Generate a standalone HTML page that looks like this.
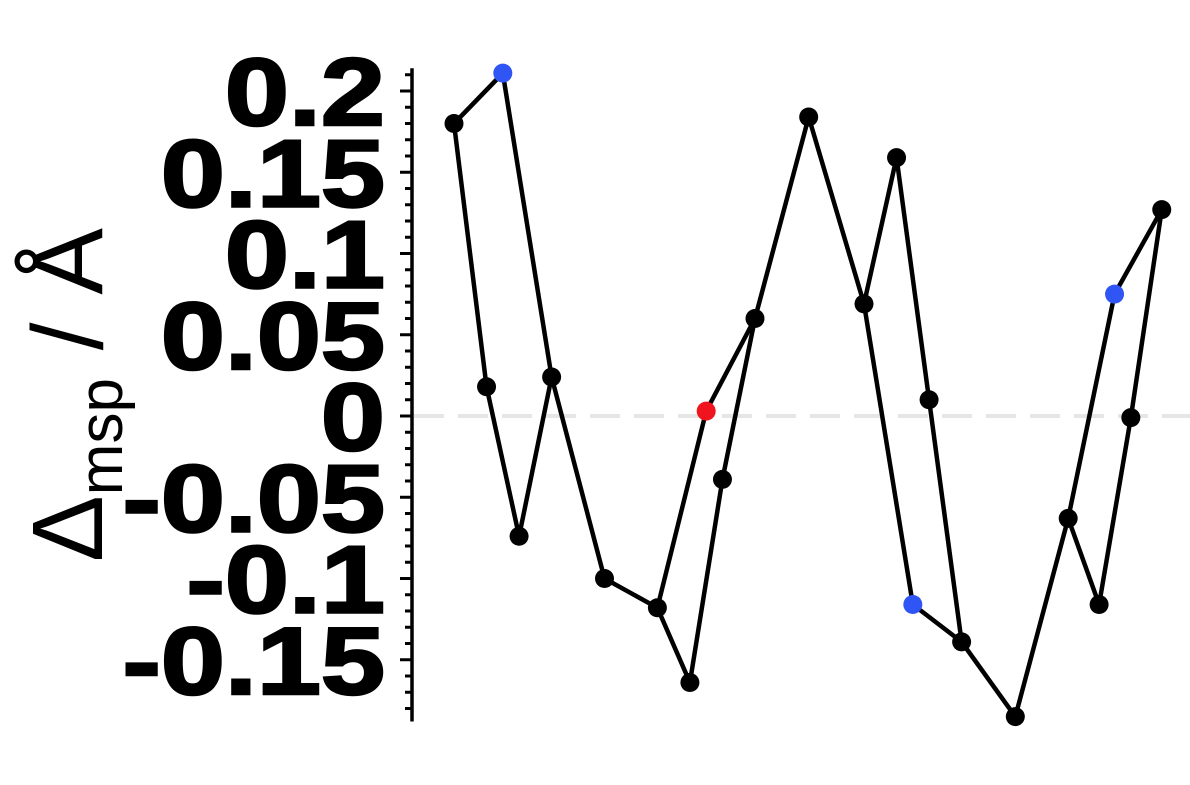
<!DOCTYPE html>
<html><head><meta charset="utf-8"><style>
html,body{margin:0;padding:0;background:#fff;}
svg{display:block;}
</style></head><body>
<svg id="chart" width="1190" height="785" xmlns="http://www.w3.org/2000/svg">
<g id="axis"></g>
<line x1="414" x2="1190" y1="416" y2="416" stroke="#e6e6e6" stroke-width="4" stroke-dasharray="30,14"/>
<g id="lines"></g>
<g id="marks"></g>
<text transform="translate(102,395) rotate(-90)" text-anchor="middle" font-family="Liberation Sans, sans-serif" font-size="100" fill="#000">Δ<tspan font-size="62" dy="20">msp</tspan><tspan dy="-20"> / Å</tspan></text>
</svg>
<script>
const xs = [0,2,3,4,6,9.25,12.5,14.5,15.5,16.5,18.5,21.8,25.2,27.2,28.2,29.2,31.2,34.5,37.75,39.65,40.6,41.6,43.5];
const ys = [0.180,0.018,0.211,-0.074,0.024,-0.100,-0.118,-0.164,0.003,-0.039,0.060,0.184,0.069,0.159,-0.116,0.010,-0.139,-0.185,-0.063,-0.116,0.075,-0.001,0.127];
const colors = ['k','k','b','k','k','k','k','k','r','k','k','k','k','k','b','k','k','k','k','k','b','k','k'];
const edgesFrom = [0,2,4,3,1,4,5,6,7,9,10,8,10,11,12,13,15,16,14,16,17,18,19,21,22,20];
const edgesTo   = [2,4,3,1,0,5,6,7,9,10,8,6,11,12,13,15,16,14,12,17,18,19,21,22,20,18];
const tickVals = [0.2,0.15,0.1,0.05,0,-0.05,-0.1,-0.15];
const tickLabels = ['0.2','0.15','0.1','0.05','0','-0.05','-0.1','-0.15'];
const NS='http://www.w3.org/2000/svg';
const X = v => 454 + v*16.27;
const Y = v => 416 - v*1625;
const colMap={k:'#000',b:'#2f55f5',r:'#f0141e'};
const axis=document.getElementById('axis');
function mk(t,a,p){const e=document.createElementNS(NS,t);for(const k in a)e.setAttribute(k,a[k]);p.appendChild(e);return e;}
let al=mk('line',{x1:412,x2:412,y1:Y(0.214),y2:Y(-0.188),stroke:'#000','stroke-width':3.5},axis);


for(let i=-18;i<=21;i++){
  const v=i/100;
  const major=(i%5===0);
  const t=mk('line',{x1:major?400:405,x2:412,y1:Y(v),y2:Y(v),stroke:'#000','stroke-width':3},axis);
  
  
}
tickVals.forEach((v,i)=>{
  const t=mk('text',{x:0,y:0,'text-anchor':'end','font-family':'Liberation Sans, sans-serif','font-weight':'bold','font-size':96,stroke:'#000','stroke-width':2.5,transform:`translate(385,${Y(v)+34}) scale(1.2,1)`},axis);
  t.textContent=tickLabels[i];
  
  
});
const lg=document.getElementById('lines');
edgesFrom.forEach((a,i)=>{
  const b=edgesTo[i];
  const l=mk('line',{x1:X(xs[a]),y1:Y(ys[a]),x2:X(xs[b]),y2:Y(ys[b]),stroke:'#000','stroke-width':4.5,'stroke-linecap':'round'},lg);
  
  
});
const mg=document.getElementById('marks');
xs.forEach((x,i)=>{
  const c=mk('circle',{cx:X(x),cy:Y(ys[i]),r:9.5,fill:colMap[colors[i]]},mg);
  
  
});
</script>
</body></html>
